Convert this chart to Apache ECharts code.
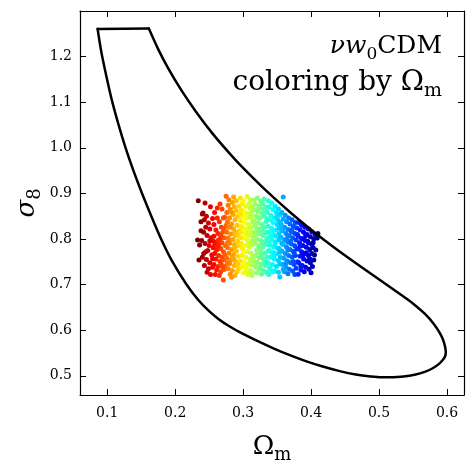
<!DOCTYPE html>
<html><head><meta charset="utf-8">
<script src="https://cdn.jsdelivr.net/npm/echarts@6/dist/echarts.min.js"></script>
<style>html,body{margin:0;padding:0;background:#fff}#c{width:475px;height:474px}</style>
</head><body><div id="c"></div>
<script>
const xTicks = [0.1, 0.2, 0.3, 0.4, 0.5, 0.6];
const yTicks = [0.5, 0.6, 0.7, 0.8, 0.9, 1.0, 1.1, 1.2];

const contourTop = [[0.0859,1.2608],[0.1613,1.2614]];
const contourCurve = [[0.1613,1.2614],[0.1741,1.2191],[0.1894,1.1752],[0.2088,1.1270],[0.2309,1.0787],[0.2554,1.0305],[0.2807,0.9866],[0.2956,0.9625],[0.3265,0.9164],[0.3487,0.8857],[0.3704,0.8572],[0.3951,0.8265],[0.4193,0.7980],[0.4429,0.7717],[0.4676,0.7454],[0.4929,0.7191],[0.5160,0.6950],[0.5328,0.6774],[0.5499,0.6588],[0.5676,0.6357],[0.5806,0.6138],[0.5893,0.5941],[0.5943,0.5787],[0.5969,0.5656],[0.5982,0.5524],[0.5971,0.5425],[0.5937,0.5349],[0.5878,0.5257],[0.5790,0.5167],[0.5672,0.5088],[0.5525,0.5026],[0.5363,0.4985],[0.5201,0.4967],[0.5040,0.4967],[0.4878,0.4985],[0.4657,0.5029],[0.4422,0.5103],[0.4172,0.5204],[0.3932,0.5318],[0.3687,0.5454],[0.3437,0.5610],[0.3201,0.5771],[0.2929,0.5974],[0.2768,0.6116],[0.2646,0.6237],[0.2496,0.6423],[0.2328,0.6686],[0.2162,0.7015],[0.1962,0.7498],[0.1800,0.7980],[0.1651,0.8496],[0.1510,0.9011],[0.1382,0.9515],[0.1266,1.0020],[0.1166,1.0513],[0.1075,1.1007],[0.1000,1.1489],[0.0928,1.1993],[0.0891,1.2300],[0.0859,1.2608]];

const bandA = [[0.234,0.884],[0.244,0.879],[0.241,0.857],[0.240,0.855],[0.246,0.850],[0.243,0.842],[0.238,0.838],[0.249,0.835],[0.245,0.826],[0.251,0.822],[0.242,0.815],[0.247,0.808],[0.253,0.803],[0.239,0.797],[0.244,0.790],[0.250,0.786],[0.236,0.787],[0.248,0.775],[0.242,0.768],[0.254,0.765],[0.235,0.754],[0.246,0.755],[0.251,0.748],[0.243,0.742],[0.249,0.735],[0.255,0.738],[0.247,0.727],[0.252,0.722],[0.240,0.760],[0.252,0.871],[0.255,0.845],[0.233,0.798]];
const bandB = [[0.258,0.858],[0.262,0.846],[0.257,0.832],[0.265,0.838],[0.268,0.826],[0.260,0.820],[0.263,0.812],[0.270,0.815],[0.257,0.806],[0.266,0.800],[0.272,0.803],[0.259,0.793],[0.264,0.788],[0.269,0.792],[0.274,0.785],[0.256,0.781],[0.261,0.776],[0.267,0.779],[0.271,0.772],[0.258,0.768],[0.264,0.764],[0.269,0.760],[0.273,0.766],[0.260,0.756],[0.266,0.751],[0.271,0.754],[0.257,0.744],[0.263,0.740],[0.268,0.744],[0.274,0.741],[0.261,0.732],[0.267,0.728],[0.272,0.733],[0.259,0.722],[0.265,0.720],[0.266,0.877],[0.273,0.848],[0.262,0.868],[0.269,0.866],[0.275,0.830],[0.256,0.795],[0.272,0.822],[0.263,0.797],[0.258,0.785],[0.270,0.738],[0.271,0.710]];
const bandC = [[0.275,0.894],[0.279,0.886],[0.284,0.880],[0.278,0.874],[0.287,0.871],[0.281,0.865],[0.290,0.862],[0.276,0.858],[0.285,0.854],[0.292,0.850],[0.280,0.846],[0.288,0.842],[0.277,0.838],[0.283,0.833],[0.291,0.830],[0.279,0.826],[0.286,0.822],[0.294,0.818],[0.276,0.815],[0.282,0.811],[0.289,0.808],[0.278,0.802],[0.285,0.799],[0.292,0.796],[0.280,0.791],[0.287,0.788],[0.294,0.785],[0.277,0.781],[0.283,0.777],[0.290,0.774],[0.279,0.769],[0.286,0.766],[0.293,0.762],[0.276,0.758],[0.282,0.754],[0.289,0.751],[0.280,0.746],[0.287,0.742],[0.294,0.739],[0.278,0.735],[0.284,0.731],[0.291,0.728],[0.281,0.723],[0.288,0.720],[0.283,0.716],[0.293,0.734],[0.290,0.884],[0.294,0.872],[0.286,0.892],[0.279,0.797],[0.288,0.815],[0.284,0.762],[0.292,0.810],[0.277,0.748]];
const bandD = [[0.296,0.890],[0.301,0.884],[0.306,0.893],[0.311,0.886],[0.298,0.877],[0.304,0.872],[0.309,0.878],[0.314,0.870],[0.297,0.864],[0.302,0.860],[0.308,0.856],[0.313,0.861],[0.299,0.850],[0.305,0.846],[0.311,0.848],[0.296,0.840],[0.302,0.836],[0.308,0.832],[0.314,0.838],[0.299,0.826],[0.305,0.822],[0.311,0.825],[0.297,0.815],[0.303,0.812],[0.309,0.808],[0.314,0.813],[0.300,0.802],[0.306,0.798],[0.312,0.795],[0.297,0.790],[0.303,0.786],[0.309,0.783],[0.314,0.788],[0.300,0.776],[0.306,0.772],[0.312,0.769],[0.298,0.764],[0.304,0.760],[0.310,0.756],[0.315,0.761],[0.301,0.750],[0.307,0.746],[0.313,0.743],[0.298,0.739],[0.304,0.735],[0.310,0.731],[0.300,0.726],[0.307,0.722],[0.313,0.728],[0.303,0.817],[0.296,0.803],[0.310,0.868],[0.301,0.771],[0.308,0.790],[0.312,0.752],[0.296,0.752],[0.305,0.741],[0.315,0.800],[0.302,0.850],[0.309,0.817]];
const bandE = [[0.316,0.885],[0.321,0.890],[0.326,0.883],[0.331,0.888],[0.318,0.876],[0.324,0.872],[0.329,0.877],[0.334,0.870],[0.317,0.864],[0.322,0.860],[0.328,0.856],[0.333,0.862],[0.319,0.850],[0.325,0.846],[0.331,0.850],[0.316,0.840],[0.322,0.836],[0.328,0.832],[0.334,0.838],[0.319,0.826],[0.325,0.822],[0.331,0.826],[0.317,0.815],[0.323,0.811],[0.329,0.808],[0.334,0.814],[0.320,0.800],[0.326,0.797],[0.332,0.794],[0.317,0.790],[0.323,0.786],[0.329,0.782],[0.334,0.788],[0.320,0.776],[0.326,0.772],[0.332,0.769],[0.318,0.763],[0.324,0.759],[0.330,0.756],[0.335,0.760],[0.321,0.749],[0.327,0.745],[0.333,0.742],[0.318,0.738],[0.324,0.734],[0.330,0.731],[0.320,0.726],[0.327,0.723],[0.333,0.728],[0.323,0.818],[0.316,0.805],[0.330,0.866],[0.321,0.770],[0.328,0.791],[0.332,0.753],[0.316,0.752],[0.326,0.740],[0.335,0.801],[0.322,0.848],[0.329,0.817],[0.313,0.720],[0.336,0.725]];
const bandF = [[0.337,0.884],[0.342,0.879],[0.347,0.872],[0.352,0.866],[0.338,0.870],[0.344,0.864],[0.349,0.858],[0.354,0.853],[0.336,0.858],[0.341,0.852],[0.346,0.846],[0.351,0.842],[0.339,0.842],[0.344,0.836],[0.350,0.832],[0.355,0.836],[0.337,0.828],[0.342,0.823],[0.348,0.820],[0.353,0.824],[0.339,0.814],[0.345,0.810],[0.351,0.806],[0.336,0.802],[0.342,0.798],[0.348,0.794],[0.353,0.798],[0.339,0.787],[0.345,0.783],[0.351,0.780],[0.337,0.774],[0.343,0.770],[0.349,0.767],[0.354,0.771],[0.340,0.760],[0.346,0.756],[0.352,0.753],[0.337,0.748],[0.343,0.744],[0.349,0.740],[0.354,0.745],[0.340,0.734],[0.346,0.730],[0.352,0.727],[0.338,0.722],[0.344,0.728],[0.354,0.717],[0.347,0.790],[0.341,0.806],[0.353,0.812],[0.336,0.815],[0.350,0.850],[0.345,0.762],[0.339,0.775],[0.355,0.760]];
const bandG = [[0.359,0.892],[0.357,0.858],[0.362,0.852],[0.367,0.846],[0.372,0.842],[0.377,0.836],[0.359,0.844],[0.364,0.838],[0.369,0.833],[0.374,0.828],[0.379,0.824],[0.356,0.832],[0.361,0.826],[0.366,0.821],[0.371,0.816],[0.376,0.812],[0.358,0.818],[0.363,0.812],[0.368,0.807],[0.373,0.802],[0.378,0.798],[0.356,0.804],[0.361,0.798],[0.366,0.793],[0.371,0.789],[0.376,0.785],[0.359,0.788],[0.364,0.782],[0.369,0.777],[0.374,0.773],[0.379,0.778],[0.357,0.774],[0.362,0.768],[0.367,0.764],[0.372,0.760],[0.377,0.764],[0.360,0.758],[0.365,0.752],[0.370,0.748],[0.375,0.744],[0.380,0.750],[0.358,0.744],[0.363,0.738],[0.368,0.734],[0.373,0.730],[0.378,0.736],[0.361,0.728],[0.366,0.724],[0.376,0.722],[0.370,0.795],[0.364,0.800],[0.380,0.810]];
const bandH = [[0.382,0.836],[0.386,0.830],[0.391,0.826],[0.396,0.822],[0.401,0.816],[0.406,0.810],[0.384,0.820],[0.389,0.815],[0.394,0.810],[0.399,0.805],[0.404,0.800],[0.409,0.802],[0.381,0.806],[0.386,0.801],[0.391,0.797],[0.396,0.792],[0.401,0.788],[0.383,0.792],[0.388,0.786],[0.393,0.782],[0.398,0.777],[0.403,0.781],[0.381,0.778],[0.386,0.772],[0.391,0.768],[0.396,0.764],[0.401,0.768],[0.384,0.762],[0.389,0.756],[0.394,0.752],[0.399,0.748],[0.404,0.754],[0.382,0.748],[0.387,0.742],[0.392,0.738],[0.397,0.734],[0.402,0.740],[0.385,0.732],[0.390,0.728],[0.400,0.726],[0.395,0.795],[0.388,0.800],[0.405,0.765],[0.410,0.812],[0.381,0.723]];
const bandExtra = [[0.262,0.783],[0.277,0.792],[0.286,0.757],[0.298,0.781],[0.307,0.809],[0.318,0.795],[0.327,0.764],[0.338,0.793],[0.348,0.806],[0.357,0.790],[0.366,0.808],[0.375,0.770],[0.384,0.784],[0.393,0.770],[0.297,0.827],[0.312,0.853],[0.323,0.867],[0.344,0.818],[0.353,0.779],[0.363,0.747],[0.283,0.859],[0.271,0.846],[0.292,0.745],[0.305,0.729],[0.319,0.742],[0.339,0.736],[0.359,0.733],[0.374,0.751],[0.388,0.765],[0.398,0.757],[0.251,0.796],[0.245,0.772],[0.238,0.818],[0.255,0.757],[0.267,0.807],[0.281,0.827],[0.296,0.855],[0.317,0.831],[0.335,0.845],[0.356,0.822],[0.372,0.821],[0.392,0.807],[0.403,0.792],[0.407,0.776],[0.300,0.745],[0.326,0.781],[0.345,0.770],[0.366,0.776],[0.385,0.741],[0.288,0.783]];
const points = [].concat(bandA, bandB, bandC, bandD, bandE, bandF, bandG, bandH, bandExtra);

const jetReversed = ['#7f0000','#ff0000','#ff7f00','#ffff00','#7fff7f','#00ffff','#007fff','#0000ff','#00007f'];

const F = 'DejaVu Serif';
const chart = echarts.init(document.getElementById('c'));
function axisBase(extra) {
  return Object.assign({
    type: 'value',
    axisLine: {show: true, onZero: false, lineStyle: {color: '#000', width: 1.2}},
    splitLine: {show: false}
  }, extra);
}
const option = {
  animation: false,
  grid: {left: 80, right: 11, top: 11, bottom: 79},
  xAxis: [
    axisBase({min: 0.06, max: 0.625, position: 'bottom',
      axisTick: {inside: true, length: 6, customValues: xTicks, lineStyle: {color: '#000', width: 1}},
      axisLabel: {customValues: xTicks, formatter: v => v.toFixed(1), fontFamily: F, fontSize: 14, color: '#000', margin: 11}}),
    axisBase({min: 0.06, max: 0.625, position: 'top',
      axisTick: {inside: true, length: 6, customValues: xTicks, lineStyle: {color: '#000', width: 1}},
      axisLabel: {show: false}})
  ],
  yAxis: [
    axisBase({min: 0.458, max: 1.30, position: 'left',
      axisTick: {inside: true, length: 6, customValues: yTicks, lineStyle: {color: '#000', width: 1}},
      axisLabel: {customValues: yTicks, formatter: v => v.toFixed(1), fontFamily: F, fontSize: 14, color: '#000', margin: 8}}),
    axisBase({min: 0.458, max: 1.30, position: 'right',
      axisTick: {inside: true, length: 6, customValues: yTicks, lineStyle: {color: '#000', width: 1}},
      axisLabel: {show: false}})
  ],
  visualMap: {show: false, type: 'continuous', dimension: 0, seriesIndex: 0, min: 0.235, max: 0.41, inRange: {color: jetReversed}},
  series: [
    {type: 'scatter', data: points, symbolSize: 5, z: 2, itemStyle: {opacity: 1}},
    {type: 'line', data: contourTop, symbol: 'none', lineStyle: {color: '#000', width: 2.5, cap: 'round', join: 'round'}, z: 5},
    {type: 'line', data: contourCurve, symbol: 'none', smooth: 0.2, lineStyle: {color: '#000', width: 2.5, cap: 'round', join: 'round'}, z: 5}
  ],
  graphic: [
    {type: 'text', x: 442, y: 46, style: {text: '{i|νw}{s|0}{r|CDM}', align: 'right', verticalAlign: 'middle',
      rich: {i: {fontFamily: F, fontStyle: 'italic', fontSize: 25, lineHeight: 34, fill: '#000'},
             r: {fontFamily: F, fontSize: 25, lineHeight: 34, fill: '#000'},
             s: {fontFamily: F, fontSize: 17, lineHeight: 17, verticalAlign: 'bottom', fill: '#000'}}}},
    {type: 'text', x: 442, y: 83, style: {text: '{r|coloring by Ω}{s|m}', align: 'right', verticalAlign: 'middle',
      rich: {r: {fontFamily: F, fontSize: 28, lineHeight: 36, fill: '#000'},
             s: {fontFamily: F, fontSize: 19, lineHeight: 19, verticalAlign: 'bottom', fill: '#000'}}}},
    {type: 'text', x: 272, y: 447, style: {text: '{r|Ω}{s|m}', align: 'center', verticalAlign: 'middle',
      rich: {r: {fontFamily: F, fontSize: 26, lineHeight: 34, fill: '#000'},
             s: {fontFamily: F, fontSize: 18, lineHeight: 18, verticalAlign: 'bottom', fill: '#000'}}}},
    {type: 'text', x: 27, y: 203, rotation: Math.PI / 2, style: {text: '{i|σ}{s|8}', align: 'center', verticalAlign: 'middle',
      rich: {i: {fontFamily: F, fontStyle: 'italic', fontSize: 26, lineHeight: 34, fill: '#000'},
             s: {fontFamily: F, fontSize: 18, lineHeight: 18, verticalAlign: 'bottom', fill: '#000'}}}}
  ]
};
chart.setOption(option);
</script></body></html>
